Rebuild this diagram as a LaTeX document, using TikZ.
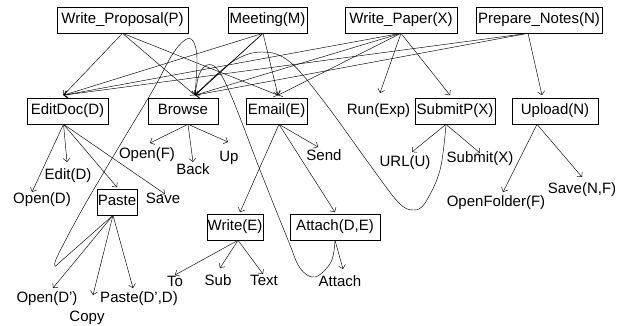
\documentclass[tikz,border=0pt]{standalone}
\usepackage{fontspec}
\setmainfont{Liberation Sans}
\usetikzlibrary{arrows.meta}
\begin{document}
\begin{tikzpicture}[x=1pt,y=-1pt,
  every node/.style={font=\fontsize{15}{18}\selectfont, text height=11pt, text depth=3.2pt},
  box/.style={draw, line width=0.6pt, minimum height=26pt, inner sep=0pt},
  txt/.style={inner sep=0pt},
  arr/.style={line width=0.45pt, -{Straight Barb[length=3.5pt,width=7pt]}},
  crv/.style={line width=0.45pt, -{Straight Barb[length=3.5pt,width=7pt]}}]
\useasboundingbox (0,0) rectangle (620,325);
% top row
\node[box, minimum width=131pt] (WP) at (122.5,20) {Write\_Proposal(P)};
\node[box, minimum width=79pt] (Meet) at (267.5,20) {Meeting(M)};
\node[box, minimum width=112pt] (WPap) at (401,20) {Write\_Paper(X)};
\node[box, minimum width=126pt] (PN) at (539,20) {Prepare\_Notes(N)};
% second row
\node[box, minimum width=81pt] (Edit) at (67.5,111) {EditDoc(D)};
\node[box, minimum width=70pt] (Browse) at (183,111) {Browse};
\node[box, minimum width=61pt] (Email) at (276.5,111) {Email(E)};
\node[txt] (Run) at (378.5,111) {Run(Exp)};
\node[box, minimum width=80pt] (SubP) at (455,111) {SubmitP(X)};
\node[box, minimum width=86pt] (Upload) at (555,111) {Upload(N)};
% third level boxes
\node[box, minimum width=40pt] (Paste) at (117,202) {Paste};
\node[box, minimum width=56pt] (WriteE) at (235,227) {Write(E)};
\node[box, minimum width=90pt] (Attach) at (335,227) {Attach(D,E)};
% leaf labels
\node[txt] (tOpenD) at (42,200) {Open(D)};
\node[txt] (tEditD) at (68,176) {Edit(D)};
\node[txt] (tSave) at (163,200) {Save};
\node[txt] (tOpenF) at (147,155) {Open(F)};
\node[txt] (tBack) at (193,171) {Back};
\node[txt] (tUp) at (229,158) {Up};
\node[txt] (tSend) at (324,157) {Send};
\node[txt] (tURL) at (405,163) {URL(U)};
\node[txt] (tSubX) at (480,159) {Submit(X)};
\node[txt] (tOpenFolder) at (496,203) {OpenFolder(F)};
\node[txt] (tSaveNF) at (582,190) {Save(N,F)};
\node[txt] (tTo) at (175,283) {To};
\node[txt] (tSub) at (218,282) {Sub};
\node[txt] (tText) at (264,282) {Text};
\node[txt] (tAttach) at (340,283) {Attach};
\node[txt] (tOpenDp) at (47,299) {Open(D')};
\node[txt] (tPasteDD) at (139,299) {Paste(D',D)};
\node[txt] (tCopy) at (87,318) {Copy};
% connection points
\coordinate (WPo) at (WP.south);
\coordinate (Meo) at ([xshift=-4.5pt]Meet.south);
\coordinate (WXo) at (WPap.south);
\coordinate (PNo) at ([xshift=-11pt]PN.south);
\coordinate (Edi) at ([xshift=-4pt,yshift=2.5pt]Edit.north);
\coordinate (Edo) at ([xshift=-4pt]Edit.south);
\coordinate (Bri) at ([xshift=12pt,yshift=2.5pt]Browse.north);
\coordinate (Bro) at ([xshift=5pt]Browse.south);
\coordinate (Emi) at ([xshift=1.5pt,yshift=2.5pt]Email.north);
\coordinate (Emo) at ([xshift=2.5pt]Email.south);
\coordinate (Rui) at (380,93);
\coordinate (Sui) at ([xshift=-5pt,yshift=2.5pt]SubP.north);
\coordinate (Suo) at ([xshift=-9pt]SubP.south);
\coordinate (Upi) at ([xshift=-13pt,yshift=2.5pt]Upload.north);
\coordinate (Upo) at ([xshift=-18pt]Upload.south);
\coordinate (Pai) at ([yshift=1.5pt]Paste.north);
\coordinate (Pao) at ([xshift=-4pt]Paste.south);
\coordinate (Wri) at ([xshift=5pt,yshift=1.5pt]WriteE.north);
\coordinate (Wro) at ([xshift=3pt]WriteE.south);
\coordinate (Ati) at ([yshift=1.5pt]Attach.north);
\coordinate (Ato) at (Attach.south);
% leaf arrow ends
\coordinate (vOpenD) at (32,192);
\coordinate (vEditD) at (67,162);
\coordinate (vSave) at (165,194);
\coordinate (vOpenF) at (150,143);
\coordinate (vBack) at (193,162);
\coordinate (vUp) at (228,142);
\coordinate (vSend) at (318,147);
\coordinate (vURL) at (412,152);
\coordinate (vSubX) at (480,153);
\coordinate (vOpenFolder) at (503,192);
\coordinate (vSaveNF) at (582,177);
\coordinate (vTo) at (175,275);
\coordinate (vSub) at (220,268);
\coordinate (vText) at (263,274);
\coordinate (vAttach) at (343,269);
\coordinate (vOpenDp) at (53,288);
\coordinate (vCopy) at (93,295);
\coordinate (vPasteDD) at (133,288);
% top-level edges
\draw[arr] (WPo) -- (Edi);
\draw[arr] (WPo) -- (Bri);
\draw[arr] (WPo) -- (Emi);
\draw[arr] (Meo) -- (Edi);
\draw[arr, line width=0.7pt] (Meo) -- (Bri);
\draw[arr] (Meo) -- (Emi);
\draw[arr] (WXo) -- (Edi);
\draw[arr] (WXo) -- (Bri);
\draw[arr] (WXo) -- (Emi);
\draw[arr] (WXo) -- (Rui);
\draw[arr] (WXo) -- (Sui);
\draw[arr] (PNo) -- (Edi);
\draw[arr] (PNo) -- (Bri);
\draw[arr] (PNo) -- (Upi);
% second-level edges
\draw[arr] (Edo) -- (vOpenD);
\draw[arr] (Edo) -- (vEditD);
\draw[arr] (Edo) -- (Pai);
\draw[arr] (Edo) -- (vSave);
\draw[arr] (Bro) -- (vOpenF);
\draw[arr] (Bro) -- (vBack);
\draw[arr] (Bro) -- (vUp);
\draw[arr] (Emo) -- (vSend);
\draw[arr] (Emo) -- (Wri);
\draw[arr] (Emo) -- (Ati);
\draw[arr] (Suo) -- (vURL);
\draw[arr] (Suo) -- (vSubX);
\draw[arr] (Upo) -- (vOpenFolder);
\draw[arr] (Upo) -- (vSaveNF);
\draw[arr] (Wro) -- (vTo);
\draw[arr] (Wro) -- (vSub);
\draw[arr] (Wro) -- (vText);
\draw[arr] (Ato) -- (vAttach);
\draw[arr] (Pao) -- (vOpenDp);
\draw[arr] (Pao) -- (vCopy);
\draw[arr] (Pao) -- (vPasteDD);
% curved edges back to Browse
\draw[crv] plot[smooth, tension=0.6] coordinates {(Pao) (85,240) (60,262) (55,266) (58,255) (83,208) (120,145) (153,90) (172,55) (185,40) (193,41) (197,58) (Bri)};
\draw[crv] plot[smooth, tension=0.6] coordinates {(Ato) (331,262) (315,277) (300,268) (288,240) (260,170) (233,100) (218,70) (207,65) (199,75) (Bri)};
\draw[crv] plot[smooth, tension=0.6] coordinates {(Suo) (440,170) (425,203) (413,210) (398,202) (370,165) (325,103) (290,62) (262,52) (232,62) (Bri)};
\end{tikzpicture}
\end{document}
